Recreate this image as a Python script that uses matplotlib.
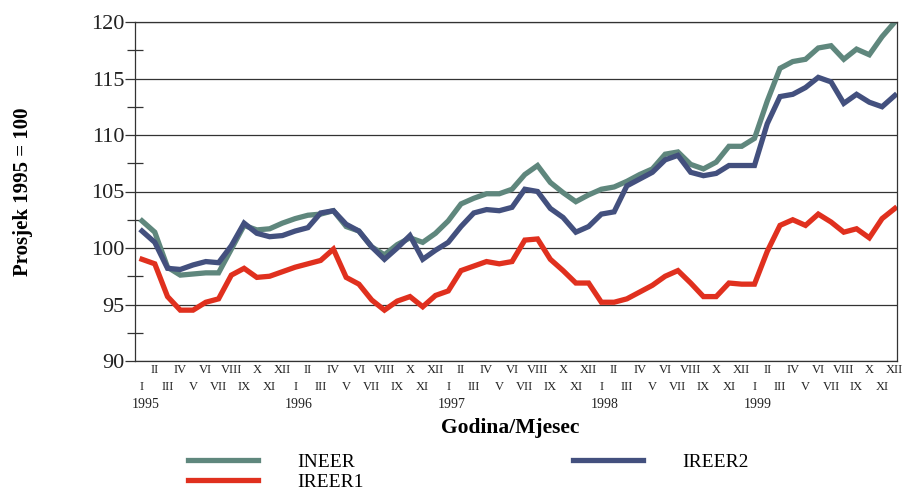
import matplotlib
matplotlib.use("Agg")
import matplotlib.pyplot as plt
from matplotlib.ticker import MultipleLocator

plt.rcParams['font.family'] = ['Liberation Serif', 'DejaVu Serif']

years = ["1995", "1996", "1997", "1998", "1999"]
months = ["I", "II", "III", "IV", "V", "VI", "VII", "VIII", "IX", "X", "XI", "XII"]

ineer = [102.4, 101.4, 98.3, 97.6, 97.7, 97.8, 97.8, 99.9, 102.0, 101.6, 101.7, 102.2,
         102.6, 102.9, 103.0, 103.3, 101.9, 101.5, 100.1, 99.4, 100.3, 100.9, 100.5, 101.3,
         102.4, 103.9, 104.4, 104.8, 104.8, 105.2, 106.5, 107.3, 105.8, 104.9, 104.1, 104.7,
         105.2, 105.4, 105.9, 106.5, 107.0, 108.3, 108.5, 107.4, 107.0, 107.6, 109.0, 109.0,
         109.7, 113.0, 115.9, 116.5, 116.7, 117.7, 117.9, 116.7, 117.6, 117.1, 118.7, 120.0]
ireer2 = [101.5, 100.5, 98.2, 98.1, 98.5, 98.8, 98.7, 100.2, 102.2, 101.3, 101.0, 101.1,
          101.5, 101.8, 103.1, 103.3, 102.1, 101.5, 100.1, 99.0, 100.0, 101.1, 99.0, 99.8,
          100.5, 101.9, 103.1, 103.4, 103.3, 103.6, 105.2, 105.0, 103.5, 102.7, 101.4, 101.9,
          103.0, 103.2, 105.5, 106.1, 106.7, 107.8, 108.2, 106.7, 106.4, 106.6, 107.3, 107.3,
          107.3, 111.0, 113.4, 113.6, 114.2, 115.1, 114.7, 112.8, 113.6, 112.9, 112.5, 113.5]
ireer1 = [99.0, 98.6, 95.7, 94.5, 94.5, 95.2, 95.5, 97.6, 98.2, 97.4, 97.5, 97.9,
          98.3, 98.6, 98.9, 99.9, 97.4, 96.8, 95.4, 94.5, 95.3, 95.7, 94.8, 95.8,
          96.2, 98.0, 98.4, 98.8, 98.6, 98.8, 100.7, 100.8, 99.0, 98.0, 96.9, 96.9,
          95.2, 95.2, 95.5, 96.1, 96.7, 97.5, 98.0, 96.9, 95.7, 95.7, 96.9, 96.8,
          96.8, 99.7, 102.0, 102.5, 102.0, 103.0, 102.3, 101.4, 101.7, 100.9, 102.6, 103.5]

c_green = "#5f877d"
c_blue = "#43507e"
c_red = "#e0301e"

fig = plt.figure(figsize=(9.06, 4.91), dpi=100)
ax = fig.add_axes([135/906, 1-361/491, (897-135)/906, (361-22)/491])

x = list(range(len(ineer)))
l1, = ax.plot(x, ineer, color=c_green, lw=3.8, solid_joinstyle='miter', label="INEER")
l3, = ax.plot(x, ireer2, color=c_blue, lw=3.8, solid_joinstyle='miter', label="IREER2")
l2, = ax.plot(x, ireer1, color=c_red, lw=3.8, solid_joinstyle='miter', label="IREER1")

ax.set_xlim(-0.55, 59.17)
ax.set_ylim(90, 120)

# y axis
ax.yaxis.set_major_locator(MultipleLocator(5))
ax.yaxis.set_minor_locator(MultipleLocator(2.5))
ax.tick_params(axis='y', which='major', direction='out', length=7.5, width=0.9,
               color='#333333', labelsize=16, pad=0, labelcolor='#222222')
ax.tick_params(axis='y', which='minor', direction='inout', length=11, width=0.9,
               color='#333333')
ax.grid(axis='y', which='major', color='#333333', lw=0.9)
for s in ax.spines.values():
    s.set_color('#333333')
    s.set_linewidth(0.9)

# x axis labels: upper row even months, lower row odd months, year under January
upper_pos = [i for i in x if i % 2 == 1]
upper_lab = [months[i % 12] for i in upper_pos]
lower_pos = [i for i in x if i % 2 == 0]
lower_lab = [months[i % 12] for i in lower_pos]
ax.set_xticks(upper_pos)
ax.set_xticklabels(upper_lab, fontsize=9, color='#222222')
ax.set_xticks(lower_pos, minor=True)
ax.set_xticklabels(lower_lab, minor=True, fontsize=9, color='#222222')
ax.tick_params(axis='x', which='major', length=0, pad=2.5)
ax.tick_params(axis='x', which='minor', length=0, pad=14.5)

sec = ax.secondary_xaxis('bottom')
sec.set_xticks([x[k * 12] + 0.25 for k in range(len(years))])
sec.set_xticklabels(years, fontsize=10, color='#222222')
sec.tick_params(axis='x', length=0, pad=27)
sec.spines['bottom'].set_visible(False)

ax.set_ylabel("Prosjek 1995 = 100", fontsize=15, fontweight='bold')
ax.yaxis.set_label_coords(-0.134, 0.5)
fig.text(510/906, 1-428/491, "Godina/Mjesec", fontsize=15.5, fontweight='bold',
         ha='center', va='center')

fig.legend(handles=[l1, l2, l3], loc='upper left', bbox_to_anchor=(188/906, 1-453/491),
           ncol=2, frameon=False, fontsize=14, handlelength=3.6, handletextpad=2.0,
           columnspacing=10.8, labelspacing=0.12, borderpad=0, borderaxespad=0)

fig.savefig("out.png", dpi=100)
